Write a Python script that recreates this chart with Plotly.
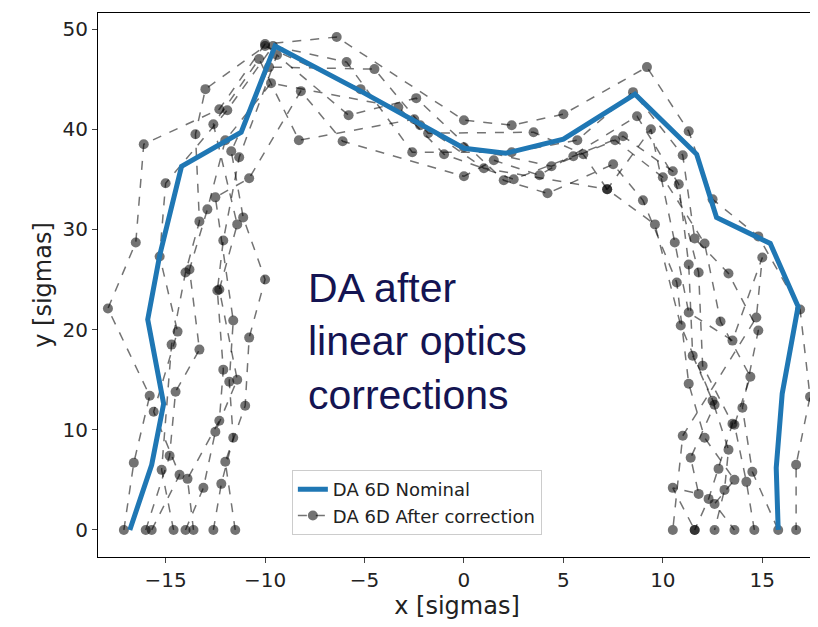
import plotly.graph_objects as go

# nominal DA (6D)
nom_x = [-16.8, -15.7, -15.1, -15.9, -15.3, -14.2, -11.2, -9.5, -5.1, 0.0, 2.1, 5.0, 8.6, 11.7, 12.7, 15.4, 16.8, 16.0, 15.7, 15.8]
nom_y = [0.0, 6.5, 12.6, 21.0, 27.4, 36.3, 39.7, 48.3, 43.7, 38.1, 37.6, 39.0, 43.5, 37.5, 31.2, 28.6, 22.3, 13.6, 6.2, 0.0]

# DA after correction, several seeds
seeds_x = [
    [-17.1, -16.6, -15.8, -17.9, -16.5, -16.1, -12.3, -10.0, -6.4, 0.0, 2.4, 5.0, 9.2, 11.3, 12.5, 14.8, 16.9, 17.4, 16.7, 16.7],
    [-15.7, -14.3, -15.6, -14.4, -15.3, -15.0, -11.9, -9.6, -5.9, -2.6, 2.4, 5.7, 8.5, 11.0, 11.6, 13.3, 14.8, 14.0, 14.5, 15.8],
    [-14.6, -15.2, -14.7, -14.0, -13.3, -13.5, -13.0, -10.0, -5.2, -2.2, 0.0, 4.4, 7.6, 10.0, 12.1, 12.9, 14.4, 13.6, 14.2, 14.6],
    [-13.6, -13.9, -12.3, -12.1, -12.4, -12.1, -11.3, -9.4, -5.8, -2.4, 2.0, 4.2, 7.5, 9.0, 10.7, 11.3, 12.1, 13.6, 12.6, 13.6],
    [-12.6, -12.2, -11.6, -11.8, -11.6, -12.5, -10.8, -8.2, -6.1, 0.0, 1.5, 3.8, 8.7, 10.8, 11.3, 11.5, 12.5, 13.3, 13.1, 12.6],
    [-11.5, -12.0, -11.0, -10.8, -10.0, -11.1, -11.7, -9.8, -4.5, -1.8, 3.5, 6.0, 7.2, 9.6, 10.9, 12.6, 11.4, 11.8, 10.5, 11.6],
    [-16.0, -14.8, -14.5, -13.3, -13.8, -12.9, -12.0, -9.7, -3.3, -1.0, 2.5, 5.5, 8.0, 10.5, 11.8, 12.0, 13.5, 12.8, 12.3, 11.6],
    [-14.0, -13.1, -12.5, -11.4, -12.3, -11.4, -12.6, -10.3, -8.3, -2.5, 1.0, 7.2, 9.4, 10.6, 11.3, 13.5, 15.0, 14.7, 11.0, 10.5],
]
seeds_y = [
    [0.0, 6.7, 13.4, 22.1, 28.7, 38.5, 42.0, 48.5, 49.2, 40.9, 40.4, 41.5, 46.2, 39.8, 33.0, 29.3, 22.0, 13.3, 6.5, 0.0],
    [0.0, 5.5, 11.8, 19.8, 27.3, 34.6, 41.9, 48.3, 46.7, 37.7, 37.7, 38.9, 43.7, 37.4, 29.1, 25.6, 19.9, 12.2, 5.8, 0.0],
    [0.0, 6.0, 18.5, 25.7, 30.8, 39.5, 44.0, 48.3, 44.0, 40.4, 38.2, 36.3, 38.9, 35.2, 28.6, 20.8, 15.3, 10.5, 4.8, 0.0],
    [0.0, 5.1, 10.9, 16.0, 23.9, 28.9, 37.2, 47.4, 41.4, 43.1, 34.9, 33.6, 36.5, 32.9, 24.7, 14.6, 9.2, 5.0, 2.6, 0.0],
    [0.0, 4.6, 9.2, 14.8, 20.9, 33.2, 35.1, 43.8, 38.8, 35.3, 36.9, 35.4, 41.3, 34.5, 26.5, 17.4, 12.9, 8.0, 4.0, 0.0],
    [0.0, 6.8, 12.4, 19.2, 25.0, 31.2, 37.8, 46.2, 46.0, 39.6, 39.7, 37.5, 34.0, 30.5, 20.4, 12.5, 7.2, 3.6, 4.2, 0.0],
    [0.0, 7.4, 13.8, 18.0, 26.0, 32.0, 38.9, 44.6, 42.2, 37.5, 35.0, 37.3, 39.3, 35.8, 25.7, 16.4, 10.6, 6.1, 3.1, 0.0],
    [0.0, 4.2, 9.8, 15.0, 24.0, 30.5, 40.5, 47.0, 38.9, 41.0, 36.1, 34.0, 40.0, 28.7, 21.7, 18.9, 27.2, 21.2, 9.4, 0.0],
]

fig = go.Figure()

for i in range(len(seeds_x)):
    fig.add_trace(go.Scatter(
        x=seeds_x[i], y=seeds_y[i], mode="lines+markers",
        line=dict(color="rgba(0,0,0,0.55)", width=1.5, dash="dash"),
        marker=dict(color="rgba(0,0,0,0.55)", size=10),
        name="DA 6D After correction", showlegend=(i == 0), legendrank=2))

fig.add_trace(go.Scatter(x=nom_x, y=nom_y, mode="lines", name="DA 6D Nominal",
                         line=dict(color="#1f77b4", width=5), legendrank=1))

fig.add_annotation(x=0.29, y=0.54, xref="paper", yref="paper", xanchor="left", yanchor="top",
                   text="DA after<br>linear optics<br>corrections", showarrow=False, align="left",
                   font=dict(size=41, color="#141452", family="Liberation Sans"))

fig.update_xaxes(range=[-18.4, 17.7], tickvals=[-15, -10, -5, 0, 5, 10, 15],
                 title=dict(text="x [sigmas]", standoff=4), showgrid=False, zeroline=False,
                 ticks="outside", showline=True, linecolor="black", mirror=True)
fig.update_yaxes(range=[-2.7, 51.6], tickvals=[0, 10, 20, 30, 40, 50],
                 title=dict(text="y [sigmas]", standoff=4), showgrid=False, zeroline=False,
                 ticks="outside", showline=True, linecolor="black", mirror=True)

fig.update_layout(
    width=818, height=627, plot_bgcolor="white", paper_bgcolor="white",
    margin=dict(l=90, r=10, t=5, b=78),
    font=dict(family="DejaVu Sans", size=20, color="#222"),
    legend=dict(x=0.27, y=0.16, xanchor="left", yanchor="top", bgcolor="white",
                bordercolor="#ccc", borderwidth=1, font=dict(size=18)),
)

fig.write_html("out.html")
